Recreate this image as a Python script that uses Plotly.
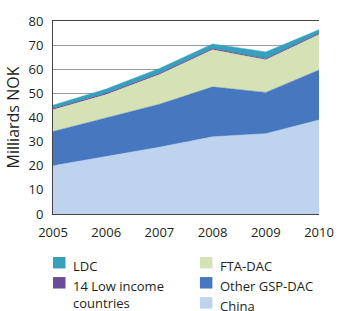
import plotly.graph_objects as go

years = [2005, 2006, 2007, 2008, 2009, 2010]
china = [20.0, 23.8, 27.7, 32.0, 33.3, 39.0]
other_gsp = [14.2, 16.1, 17.8, 20.7, 17.1, 20.7]
fta_dac = [9.0, 9.6, 12.3, 15.4, 13.5, 14.7]
low_income = [0.5, 0.5, 0.5, 0.5, 0.5, 0.5]
ldc = [1.4, 1.8, 2.0, 1.9, 2.8, 1.5]

series_names = ["China", "Other GSP-DAC", "FTA-DAC", "14 Low income countries", "LDC"]
series_vals = [china, other_gsp, fta_dac, low_income, ldc]
colors = ["#bdd3ee", "#4677bf", "#d4e2b5", "#6b4c9a", "#36a0bd"]

FONT = "Open Sans"
W, H = 346, 311
L, R, T, B = 53, 16, 12, 97
PW, PH = W - L - R, H - T - B

fig = go.Figure()
for name, vals, col in zip(series_names, series_vals, colors):
    fig.add_trace(go.Scatter(
        x=years, y=vals, name=name, stackgroup="one", mode="lines",
        line=dict(color=col, width=0.5), fillcolor=col, showlegend=False,
        hoverinfo="x+y+name",
    ))

def px_x(px):
    return (px - L) / PW

def px_y(py):
    return (H - B - py) / PH

# custom two-column legend
legend_items = [
    ("LDC", colors[4], 53, 259),
    ("14 Low income<br>countries", colors[3], 53, 280),
    ("FTA-DAC", colors[2], 206, 259),
    ("Other GSP-DAC", colors[1], 206, 280),
    ("China", colors[0], 206, 301),
]
shapes = []
annotations = []
for label, col, sx, sy in legend_items:
    shapes.append(dict(type="rect", xref="paper", yref="paper",
                       x0=px_x(sx), x1=px_x(sx + 13), y0=px_y(sy + 12), y1=px_y(sy),
                       fillcolor=col, line=dict(width=0), layer="above"))
    annotations.append(dict(xref="paper", yref="paper", x=px_x(sx + 19), y=px_y(sy - 2),
                            text=label, showarrow=False, xanchor="left", yanchor="top",
                            align="left", font=dict(family=FONT, size=13, color="#231f20")))

fig.update_layout(
    width=W, height=H,
    margin=dict(l=L, r=R, t=T, b=B, pad=0),
    paper_bgcolor="white", plot_bgcolor="white",
    font=dict(family=FONT, size=13, color="#231f20"),
    xaxis=dict(range=[2005, 2010], tickvals=years, ticktext=[str(y) for y in years],
               showgrid=False, showline=True, mirror=True, linecolor="#444", linewidth=1,
               ticks="", zeroline=False, tickfont=dict(size=13), ticklabelstandoff=6),
    yaxis=dict(range=[0, 80], dtick=10, showgrid=True, gridcolor="#9a9a9a", gridwidth=1,
               showline=True, linecolor="#444", linewidth=1, ticks="", zeroline=False,
               tickfont=dict(size=13), ticklabelstandoff=6,
               title=dict(text="Milliards NOK", font=dict(size=16), standoff=4)),
    shapes=shapes, annotations=annotations,
)

fig.write_html("out.html")
